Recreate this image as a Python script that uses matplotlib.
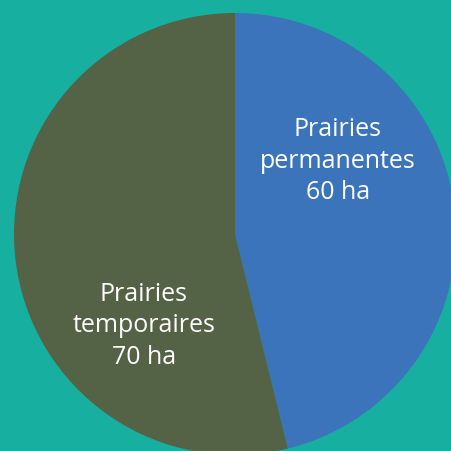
import matplotlib.pyplot as plt

labels = ["Prairies\npermanentes\n60 ha", "Prairies\ntemporaires\n70 ha"]
values = [60, 70]
colors = ["#3b74ba", "#546246"]

fig = plt.figure(figsize=(4.52, 4.52), dpi=100)
fig.patch.set_facecolor("#17b0a0")
ax = fig.add_axes([0, 0, 1, 1])

ax.pie(values, colors=colors, startangle=90, counterclock=False,
       center=(235, 217), radius=221, frame=True,
       wedgeprops=dict(linewidth=0))
ax.set_xlim(0, 452)
ax.set_ylim(0, 452)
ax.set_aspect("equal")
ax.axis("off")

# label spots (pixel coords of the original, y from top)
spots = [(338, 161), (144, 326)]
for lab, (x, y) in zip(labels, spots):
    ax.text(x, 452 - y, lab, color="white", fontsize=18, family="Open Sans",
            ha="center", va="center", linespacing=1.35)

fig.savefig("out.png", dpi=100, facecolor=fig.get_facecolor())
